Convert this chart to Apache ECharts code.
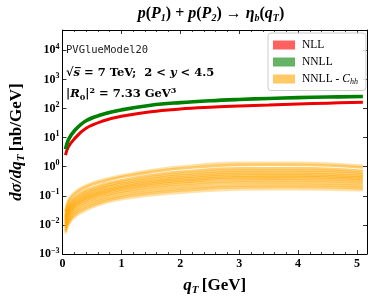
<!DOCTYPE html>
<html><head><meta charset="utf-8">
<script src="https://cdn.jsdelivr.net/npm/echarts@6/dist/echarts.min.js"></script>
<style>html,body{margin:0;padding:0;background:#fff}#c{width:374px;height:301px}</style>
</head><body><div id="c"></div>
<script>
// ---- data ----
const qtMain = [0.05, 0.1, 0.2, 0.4, 0.7, 1.0, 1.5, 2.0, 2.5, 3.0, 3.5, 4.0, 4.5, 5.1];
const nll  = [2.5, 4.8, 9, 21, 38, 54, 78, 96, 110, 122, 132, 143, 153, 165];
const nnll = [4.0, 8.5, 17, 38, 65, 90, 130, 160, 185, 205, 222, 237, 248, 258];

const qtChh = [0.05, 0.1, 0.2, 0.4, 0.7, 1.0, 1.5, 2.0, 3.0, 4.0, 5.1];
const chh01 = [0.030, 0.071, 0.129, 0.229, 0.363, 0.50, 0.75, 1.0, 1.35, 1.35, 1.07];
const chh02 = [0.0266, 0.0617, 0.112, 0.200, 0.318, 0.44, 0.653, 0.867, 1.16, 1.17, 0.935];
const chh03 = [0.0211, 0.0479, 0.0871, 0.155, 0.249, 0.344, 0.506, 0.664, 0.887, 0.891, 0.728];
const chh04 = [0.0183, 0.0409, 0.0745, 0.132, 0.214, 0.295, 0.433, 0.564, 0.75, 0.755, 0.624];
const chh05 = [0.0161, 0.0357, 0.0649, 0.1155, 0.1875, 0.259, 0.377, 0.488, 0.648, 0.653, 0.545];
const chh06 = [0.0142, 0.0311, 0.0566, 0.1007, 0.164, 0.227, 0.328, 0.423, 0.560, 0.565, 0.475];
const chh07 = [0.0128, 0.0277, 0.0504, 0.0895, 0.1466, 0.202, 0.292, 0.374, 0.493, 0.499, 0.424];
const chh08 = [0.01146, 0.0246, 0.0448, 0.0796, 0.131, 0.181, 0.259, 0.330, 0.436, 0.441, 0.377];
const chh09 = [0.01028, 0.0219, 0.0398, 0.0708, 0.117, 0.161, 0.230, 0.292, 0.384, 0.389, 0.336];
const chh10 = [0.00906, 0.0191, 0.0348, 0.0618, 0.1026, 0.1416, 0.2005, 0.2535, 0.331, 0.3365, 0.293];
const chh11 = [0.00785, 0.0163, 0.0297, 0.0528, 0.0881, 0.1216, 0.1714, 0.215, 0.280, 0.285, 0.251];
const chh12 = [0.00668, 0.01368, 0.0249, 0.0443, 0.0743, 0.1026, 0.1435, 0.1786, 0.232, 0.2366, 0.211];
const chh13 = [0.00578, 0.0117, 0.0213, 0.0378, 0.064, 0.0883, 0.1225, 0.1517, 0.1963, 0.2004, 0.1807];
const chh14 = [0.005, 0.01, 0.0182, 0.0324, 0.055, 0.0759, 0.1047, 0.1288, 0.166, 0.170, 0.155];
const chhCurves = [chh01, chh02, chh03, chh04, chh05, chh06, chh07, chh08, chh09, chh10, chh11, chh12, chh13, chh14];

const xTicks = [0, 1, 2, 3, 4, 5];
const legendNames = ['NLL', 'NNLL', 'NNLL - Chh'];

// ---- chart ----
const SERIF = '"Liberation Serif", "DejaVu Serif", serif';
const DSERIF = '"DejaVu Serif", serif';
const pair = (xs, ys) => xs.map((x, i) => [x, ys[i]]);
const chart = echarts.init(document.getElementById('c'), null, {renderer: 'canvas'});

const series = [];
chhCurves.forEach((c, k) => {
  const edge = (k === 0 || k === chhCurves.length - 1);
  series.push({
    type: 'line', name: 'chh' + k, data: pair(qtChh, c), smooth: 0.4, showSymbol: false,
    lineStyle: {color: '#FFA500', width: 2.6, opacity: edge ? 0.35 : 0.55}, silent: true, z: 2
  });
});
series.push({type: 'line', name: 'nll-line', data: pair(qtMain, nll), smooth: 0.4, showSymbol: false,
  lineStyle: {color: '#ee0000', width: 3}, z: 3});
series.push({type: 'line', name: 'nnll-line', data: pair(qtMain, nnll), smooth: 0.4, showSymbol: false,
  lineStyle: {color: '#008000', width: 3.6}, z: 3});
// legend-only entries (no data)
series.push({type: 'bar', name: legendNames[0], data: [], itemStyle: {color: '#FF6060'}});
series.push({type: 'bar', name: legendNames[1], data: [], itemStyle: {color: '#66B366'}});
series.push({type: 'bar', name: legendNames[2], data: [], itemStyle: {color: '#FFC966'}});

const tickSide = () => ({show: true, inside: true, length: 4, lineStyle: {color: '#000', width: 0.8}});
const boldI = (sz) => ({fontFamily: SERIF, fontStyle: 'italic', fontWeight: 'bold', fontSize: sz, color: '#000'});
const boldR = (sz) => ({fontFamily: SERIF, fontWeight: 'bold', fontSize: sz, color: '#000'});

const option = {
  animation: false,
  grid: {left: 56, right: 7, top: 30, bottom: 40, containLabel: false},
  xAxis: [
    {type: 'value', min: 0, max: 5.17, interval: 1, position: 'bottom',
     axisLine: {show: true, onZero: false, lineStyle: {color: '#000', width: 1}},
     axisTick: tickSide(), minorTick: {show: true, splitNumber: 5, length: 2, lineStyle: {color: '#000', width: 0.7}},
     splitLine: {show: false},
     axisLabel: {color: '#000', fontFamily: SERIF, fontWeight: 'bold', fontSize: 12, margin: 4, showMaxLabel: false,
       formatter: v => (xTicks.indexOf(v) >= 0 ? String(v) : '')},
     name: '{i|q}{s|T} {r|[GeV]}', nameLocation: 'middle', nameGap: 22,
     nameTextStyle: {rich: {
       i: boldI(17),
       s: Object.assign(boldI(11), {verticalAlign: 'bottom', padding: [9, 0, 0, 0]}),
       r: boldR(17)}}},
    {type: 'value', min: 0, max: 5.17, interval: 1, position: 'top',
     axisLine: {show: true, onZero: false, lineStyle: {color: '#000', width: 1}},
     axisTick: tickSide(), minorTick: {show: true, splitNumber: 5, length: 2, lineStyle: {color: '#000', width: 0.7}},
     splitLine: {show: false}, axisLabel: {show: false}}
  ],
  yAxis: [
    {type: 'log', logBase: 10, min: 0.001, max: 50000, position: 'left',
     axisLine: {show: true, onZero: false, lineStyle: {color: '#000', width: 1}},
     axisTick: tickSide(), minorTick: {show: false}, splitLine: {show: false},
     axisLabel: {color: '#000', margin: 3, showMaxLabel: false,
       formatter: v => { const e = Math.round(Math.log10(v)); return '{b|10}{e|' + (e < 0 ? '\u2212' + (-e) : e) + '}'; },
       rich: {b: boldR(12),
              e: Object.assign(boldR(8), {verticalAlign: 'top', padding: [0, 0, 7, 0]})}},
     name: '{i|d\u03c3/dq}{s|T} {r|[nb/GeV]}', nameLocation: 'middle', nameGap: 36, nameRotate: 90,
     nameTextStyle: {rich: {
       i: boldI(17),
       s: Object.assign(boldI(11), {verticalAlign: 'bottom', padding: [9, 0, 0, 0]}),
       r: boldR(17)}}},
    {type: 'log', logBase: 10, min: 0.001, max: 50000, position: 'right',
     axisLine: {show: true, onZero: false, lineStyle: {color: '#000', width: 1}},
     axisTick: tickSide(), splitLine: {show: false}, axisLabel: {show: false}}
  ],
  legend: {
    data: legendNames.map(n => ({name: n, icon: 'rect'})),
    orient: 'vertical', left: 268, top: 33, itemWidth: 22, itemHeight: 9, itemGap: 5,
    padding: [6, 8, 5, 5], borderColor: '#cccccc', borderWidth: 1, borderRadius: 3,
    backgroundColor: 'rgba(255,255,255,0.85)', selectedMode: false,
    formatter: n => n === 'NNLL - Chh' ? '{r|NNLL - }{i|C}{s|hh}' : '{r|' + n + '}',
    textStyle: {padding: [0, 0, 0, 2], rich: {
      r: {fontFamily: SERIF, fontSize: 11.5, color: '#000'},
      i: {fontFamily: SERIF, fontStyle: 'italic', fontSize: 11.5, color: '#000'},
      s: {fontFamily: SERIF, fontStyle: 'italic', fontSize: 8, color: '#000', verticalAlign: 'bottom', padding: [5, 0, 0, 0]}}}
  },
  graphic: [
    {type: 'text', x: 211, y: 14, style: {
      text: '{i|p}{r|(}{i|P}{s|1}{r|) + }{i|p}{r|(}{i|P}{s|2}{r|) \u2192 }{i|\u03b7}{s|b}{r|(}{i|q}{s|T}{r|)}',
      align: 'center', verticalAlign: 'middle',
      rich: {i: {fontFamily: SERIF, fontStyle: 'italic', fontWeight: 'bold', fontSize: 16, fill: '#000'},
             r: {fontFamily: SERIF, fontWeight: 'bold', fontSize: 16, fill: '#000'},
             s: {fontFamily: SERIF, fontStyle: 'italic', fontWeight: 'bold', fontSize: 10, fill: '#000', verticalAlign: 'bottom', padding: [9, 0, 0, 0]}}}},
    {type: 'text', x: 66, y: 50, style: {text: 'PVGlueModel20', font: '10.5px "DejaVu Sans Mono", monospace', fill: '#222', verticalAlign: 'middle'}},
    {type: 'text', x: 66, y: 73, style: {
      text: '{r|\u221a}{o|s\u0305}{r| = 7 TeV;  2 < }{i|y}{r| < 4.5}', verticalAlign: 'middle',
      rich: {r: {fontFamily: DSERIF, fontWeight: 'bold', fontSize: 11.5, fill: '#000'},
             i: {fontFamily: DSERIF, fontStyle: 'italic', fontWeight: 'bold', fontSize: 11.5, fill: '#000'},
             o: {fontFamily: DSERIF, fontStyle: 'italic', fontWeight: 'bold', fontSize: 11.5, fill: '#000'}}}},
    {type: 'text', x: 66, y: 94, style: {
      text: '{r||}{i|R}{s|0}{r||}{p|2}{r| = 7.33 GeV}{p|3}', verticalAlign: 'middle',
      rich: {r: {fontFamily: DSERIF, fontWeight: 'bold', fontSize: 11.5, fill: '#000'},
             i: {fontFamily: DSERIF, fontStyle: 'italic', fontWeight: 'bold', fontSize: 11.5, fill: '#000'},
             s: {fontFamily: DSERIF, fontWeight: 'bold', fontSize: 8, fill: '#000', verticalAlign: 'bottom', padding: [6, 0, 0, 0]},
             p: {fontFamily: DSERIF, fontWeight: 'bold', fontSize: 8, fill: '#000', verticalAlign: 'top', padding: [0, 0, 7, 0]}}}}
  ],
  series: series
};
chart.setOption(option);
</script></body></html>
